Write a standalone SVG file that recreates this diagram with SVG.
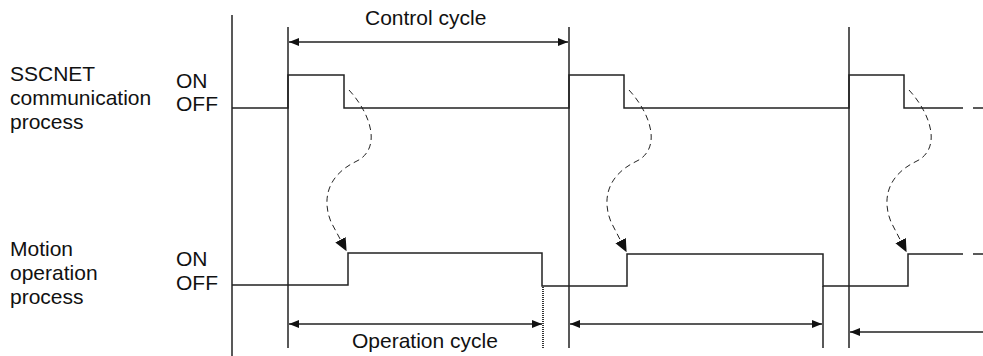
<svg xmlns="http://www.w3.org/2000/svg" width="983" height="356" viewBox="0 0 983 356">
<style>
  text { font-family: "Liberation Sans", Arial, sans-serif; font-size: 21px; fill: #111; }
  .ln { stroke: #222; stroke-width: 1.5; fill: none; }
  .sig { stroke: #222; stroke-width: 1.5; fill: none; }
  .curve { stroke: #222; stroke-width: 1; fill: none; stroke-dasharray: 6 4; }
  .dim { stroke: #222; stroke-width: 1.4; fill: none; }
</style>
<defs>
  <marker id="ah" viewBox="0 0 10 8" refX="10" refY="4" markerWidth="10" markerHeight="8" markerUnits="userSpaceOnUse" orient="auto-start-reverse">
    <path d="M0,0 L10,4 L0,8 Z" fill="#111"/>
  </marker>
  <marker id="ch" viewBox="0 0 10 10" refX="9" refY="5" markerWidth="13" markerHeight="13" markerUnits="userSpaceOnUse" orient="auto">
    <path d="M0,0.5 L10,5 L0,9.5 Z" fill="#111"/>
  </marker>
</defs>
<rect width="983" height="356" fill="#fff"/>

<g id="labels">
  <g id="sscnet-label">
    <text x="10" y="81">SSCNET</text>
    <text x="10" y="105">communication</text>
    <text x="10" y="129">process</text>
    <text x="176" y="88">ON</text>
    <text x="176" y="111">OFF</text>
  </g>
  <g id="motion-label">
    <text x="10" y="256">Motion</text>
    <text x="10" y="280">operation</text>
    <text x="10" y="304">process</text>
    <text x="176" y="266">ON</text>
    <text x="176" y="290">OFF</text>
  </g>
  <text id="control-cycle-label" x="365" y="25">Control cycle</text>
  <text id="operation-cycle-label" x="352" y="348">Operation cycle</text>
</g>

<g id="gridlines">
  <line class="ln" x1="232" y1="15" x2="232" y2="356"/>
  <line class="ln" x1="288" y1="27" x2="288" y2="348"/>
  <line class="ln" x1="569" y1="27" x2="569" y2="348"/>
  <line class="ln" x1="849" y1="27" x2="849" y2="348"/>
  <line stroke="#333" stroke-width="2" stroke-dasharray="1 1" x1="543" y1="287" x2="543" y2="349"/>
  <line class="ln" x1="823" y1="286" x2="823" y2="348"/>
</g>

<g id="sscnet-signal">
  <polyline class="sig" points="232,108 288,108 288,75 344,75 344,108 569,108 569,75 624,75 624,108 849,108 849,75 904,75 904,108 963,108"/>
  <line class="sig" x1="973" y1="108" x2="983" y2="108"/>
</g>

<g id="motion-signal">
  <polyline class="sig" points="232,285 348,285 348,253 542,253 542,286 627,286 627,254 823,254 823,286 908,286 908,254 963,254"/>
  <line class="sig" x1="973" y1="254" x2="983" y2="254"/>
</g>

<g id="connectors">
  <line class="dim" x1="289" y1="42" x2="568" y2="42" marker-start="url(#ah)" marker-end="url(#ah)"/>
  <line class="dim" x1="289" y1="324" x2="542" y2="324" marker-start="url(#ah)" marker-end="url(#ah)"/>
  <line class="dim" x1="570" y1="324" x2="822" y2="324" marker-start="url(#ah)" marker-end="url(#ah)"/>
  <line class="dim" x1="850" y1="332" x2="983" y2="332" marker-start="url(#ah)"/>
  <path class="curve" d="M349,90 C372,115 382,150 355,162 C327,176 322,200 331,222 L346,250" marker-end="url(#ch)"/>
  <path class="curve" d="M629,90 C652,115 662,150 635,162 C607,176 602,200 611,222 L626,251" marker-end="url(#ch)"/>
  <path class="curve" d="M909,90 C932,115 942,150 915,162 C887,176 882,200 891,222 L906,251" marker-end="url(#ch)"/>
</g>
</svg>
